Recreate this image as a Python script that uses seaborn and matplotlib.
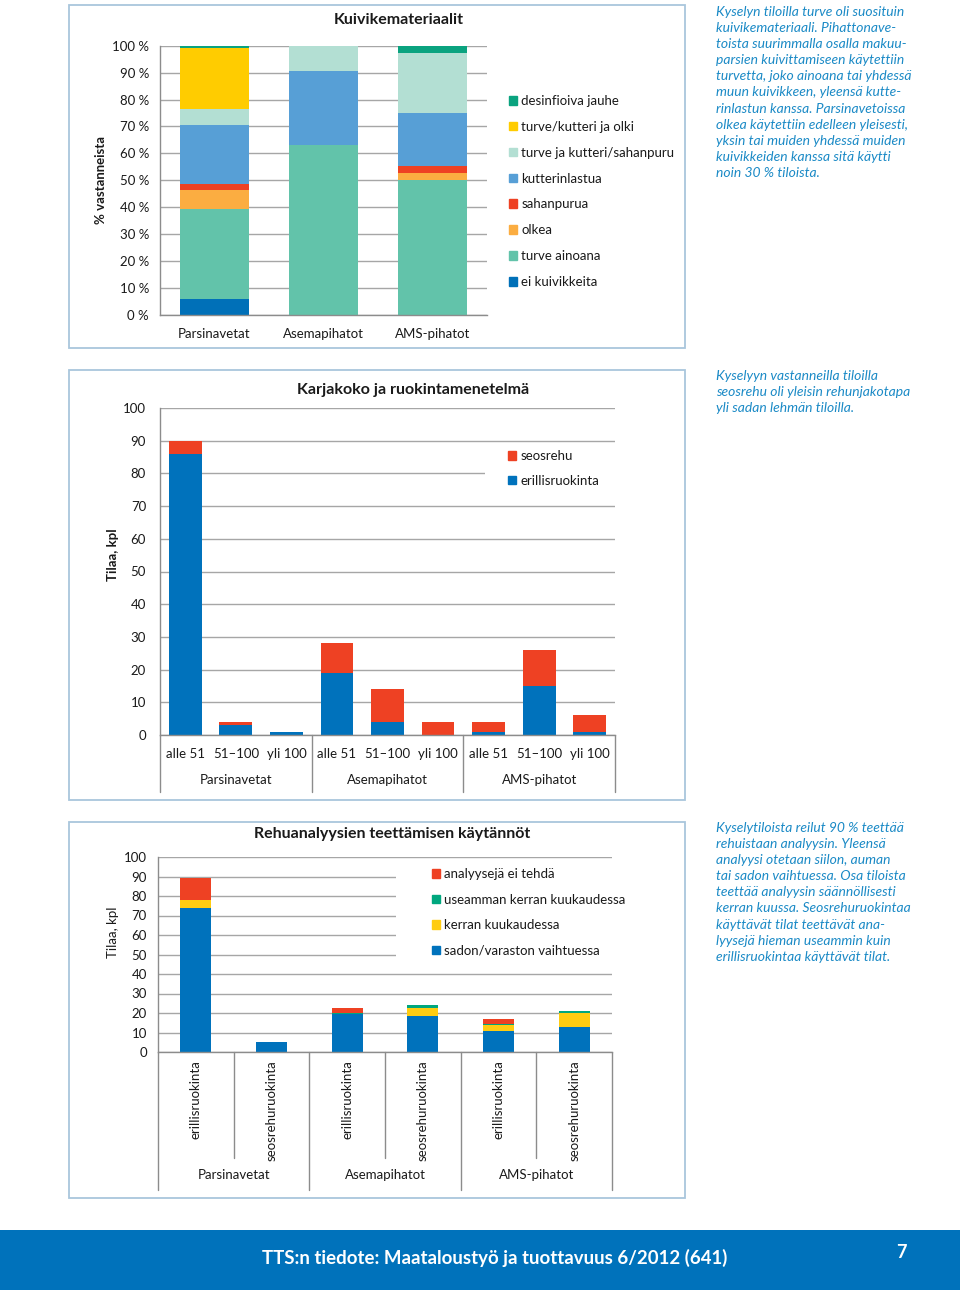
import matplotlib
matplotlib.use('Agg')
import matplotlib.pyplot as plt
from matplotlib.patches import Patch, Rectangle
from matplotlib.transforms import blended_transform_factory
import numpy as np
import pandas as pd
import seaborn as sns

# chart 1: Kuivikemateriaalit, % vastanneista
navetat = ['Parsinavetat', 'Asemapihatot', 'AMS-pihatot']
kuivike_lajit = ['ei kuivikkeita', 'turve ainoana', 'olkea', 'sahanpurua',
                 'kutterinlastua', 'turve ja kutteri/sahanpuru',
                 'turve/kutteri ja olki', 'desinfioiva jauhe']
ei_kuivikkeita = [6, 0, 0]
turve_ainoana = [33.5, 63, 50]
olkea = [7, 0, 2.7]
sahanpurua = [2, 0, 2.7]
kutterinlastua = [22, 27.6, 19.6]
turve_ja_kutteri = [6, 9.4, 22.2]
turve_kutteri_olki = [22.5, 0, 0]
desinfioiva = [1, 0, 2.8]

# chart 2: Karjakoko ja ruokintamenetelma, tilaa kpl
koot = ['alle 51', '51–100', 'yli 100']
erillisruokinta = [86, 3, 1, 19, 4, 0, 1, 15, 1]
seosrehu = [4, 1, 0, 9, 10, 4, 3, 11, 5]

# chart 3: Rehuanalyysien teettamisen kaytannot, tilaa kpl
ruokinta = ['erillisruokinta', 'seosrehuruokinta']
sadon_vaihtuessa = [74, 5, 19.5, 18.7, 10.7, 12.8]
kerran_kk = [4, 0, 0, 4, 3.3, 7]
useamman_kerran_kk = [0, 0, 0.5, 1.2, 0.5, 1]
ei_tehda = [11, 0, 2.8, 0, 2.5, 0]

W, H = 960, 1290
GRID = '#a6a6a6'
AXC = '#8c8c8c'
FONT = 'Lato'
TXT = '#1a1a1a'
BLUE_TXT = '#1b8ac6'

sns.set_theme(style='white')
plt.rcParams['font.family'] = [FONT, 'DejaVu Sans']
plt.rcParams['axes.edgecolor'] = AXC

fig = plt.figure(figsize=(W / 100, H / 100), dpi=100)


def add_ax(l, t, r, b):
    return fig.add_axes([l / W, 1 - b / H, (r - l) / W, (b - t) / H])


def fy(py):
    return 1 - py / H


def stacked(ax, keys, layers, colors, width):
    cum = np.cumsum(np.array(layers, dtype=float), axis=0)
    for i in range(len(layers) - 1, -1, -1):
        df = pd.DataFrame({'k': keys, 'v': cum[i]})
        sns.barplot(data=df, x='k', y='v', order=keys, color=colors[i],
                    width=width, saturation=1, linewidth=0, errorbar=None, ax=ax)
    ax.set_xlabel('')
    ax.set_ylabel('')


def style_axes(ax, ticks):
    ax.set_ylim(0, 100)
    ax.set_yticks(ticks)
    ax.yaxis.grid(True, color=GRID, lw=1)
    ax.set_axisbelow(True)
    for s in ['top', 'right']:
        ax.spines[s].set_visible(False)
    for s in ['left', 'bottom']:
        ax.spines[s].set_color(AXC)
        ax.spines[s].set_linewidth(1)


def frame(l, t, r, b):
    fig.add_artist(Rectangle((l / W, 1 - b / H), (r - l) / W, (b - t) / H,
                             fill=False, edgecolor='#a9c6dc', lw=1.3,
                             transform=fig.transFigure))


def legend(handles, x, y, spacing):
    fig.legend(handles=handles, loc='upper left', bbox_to_anchor=(x / W, fy(y)),
               frameon=False, handlelength=0.62, handleheight=0.62, handletextpad=0.3,
               labelspacing=spacing, fontsize=9.5, labelcolor=TXT,
               borderpad=0, borderaxespad=0)


# ---------- chart 1 ----------
frame(69, 5, 685, 348)
ax1 = add_ax(160, 45.7, 487, 315)
c1 = ['#0070b8', '#62c3aa', '#fbad41', '#ee4123', '#579fd6', '#b3dfd3', '#ffcc00', '#0aa37f']
stacked(ax1, navetat,
        [ei_kuivikkeita, turve_ainoana, olkea, sahanpurua, kutterinlastua,
         turve_ja_kutteri, turve_kutteri_olki, desinfioiva], c1, 0.64)
style_axes(ax1, range(0, 101, 10))
ax1.set_xlim(-0.5, len(navetat) - 0.5)
ax1.set_yticklabels([f'{v} %' for v in range(0, 101, 10)])
ax1.tick_params(axis='y', length=3, color=AXC, pad=5, labelsize=9.5, labelcolor=TXT)
ax1.tick_params(axis='x', length=0, pad=9, labelsize=9.5, labelcolor=TXT)
fig.text(399 / W, fy(20), 'Kuivikemateriaalit', ha='center', va='center',
         fontsize=11.5, fontweight='bold', color=TXT)
fig.text(101 / W, fy(180), '% vastanneista', rotation=90, ha='center', va='center',
         fontsize=9.5, fontweight='bold', color=TXT)
h1 = [Patch(color=c1[i], label=kuivike_lajit[i]) for i in range(len(c1) - 1, -1, -1)]
legend(h1, 509, 95, 1.05)

# ---------- chart 2 ----------
frame(69, 370, 685, 800)
ax2 = add_ax(160, 408, 615, 735)
keys2 = [f'{g}|{k}' for g in navetat for k in koot]
c2 = ['#0072bc', '#ee4123']
stacked(ax2, keys2, [erillisruokinta, seosrehu], c2, 0.65)
style_axes(ax2, range(0, 101, 10))
ax2.set_xticks(range(len(keys2)))
ax2.set_xticklabels([k for g in navetat for k in koot])
ax2.tick_params(axis='y', length=0, pad=10, labelsize=9.5, labelcolor=TXT)
ax2.tick_params(axis='x', length=0, pad=9, labelsize=9.5, labelcolor=TXT)
ax2.add_patch(Rectangle((5.93, 76), 2.57, 8, facecolor='white', edgecolor='none', zorder=0.8))
tr2 = blended_transform_factory(ax2.transData, ax2.transAxes)
for x in [-0.5, 2.5, 5.5, 8.5]:
    ax2.plot([x, x], [0, -57 / 327], transform=tr2, clip_on=False, color=AXC, lw=1)
for i, g in enumerate(navetat):
    ax2.text(3 * i + 1, -45 / 327, g, transform=tr2, ha='center', va='center',
             fontsize=9.5, color=TXT)
ax2.set_xlim(-0.5, len(keys2) - 0.5)
fig.text(413 / W, fy(390), 'Karjakoko ja ruokintamenetelmä', ha='center', va='center',
         fontsize=11.5, fontweight='bold', color=TXT)
fig.text(113 / W, fy(555), 'Tilaa, kpl', rotation=90, ha='center', va='center',
         fontsize=9.5, fontweight='bold', color=TXT)
h2 = [Patch(color=c2[1], label='seosrehu'), Patch(color=c2[0], label='erillisruokinta')]
legend(h2, 508, 450, 0.95)

# ---------- chart 3 ----------
frame(69, 822, 685, 1198)
ax3 = add_ax(158, 857, 612, 1052)
keys3 = [f'{g}|{r}' for g in navetat for r in ruokinta]
c3 = ['#0072bc', '#ffcc11', '#00a77e', '#ee4123']
stacked(ax3, keys3, [sadon_vaihtuessa, kerran_kk, useamman_kerran_kk, ei_tehda], c3, 0.41)
style_axes(ax3, range(0, 101, 10))
ax3.set_xticks(range(len(keys3)))
ax3.set_xticklabels([r for g in navetat for r in ruokinta], rotation=90, va='top', ha='center')
ax3.tick_params(axis='y', length=3, color=AXC, pad=5, labelsize=9.5, labelcolor=TXT)
ax3.tick_params(axis='x', length=0, pad=6, labelsize=9.5, labelcolor=TXT)
ax3.add_patch(Rectangle((2.65, 44), 2.85, 51, facecolor='white', edgecolor='none', zorder=0.8))
tr3 = blended_transform_factory(ax3.transData, ax3.transAxes)
for x in [-0.5, 1.5, 3.5, 5.5]:
    ax3.plot([x, x], [0, -138 / 195], transform=tr3, clip_on=False, color=AXC, lw=1)
for x in [0.5, 2.5, 4.5]:
    ax3.plot([x, x], [0, -106 / 195], transform=tr3, clip_on=False, color=AXC, lw=1)
for i, g in enumerate(navetat):
    ax3.text(2 * i + 0.5, -123 / 195, g, transform=tr3, ha='center', va='center',
             fontsize=9.5, color=TXT)
ax3.set_xlim(-0.5, len(keys3) - 0.5)
fig.text(392 / W, fy(834), 'Rehuanalyysien teettämisen käytännöt', ha='center', va='center',
         fontsize=11.5, fontweight='bold', color=TXT)
fig.text(113 / W, fy(932), 'Tilaa, kpl', rotation=90, ha='center', va='center',
         fontsize=9.5, color=TXT)
l3 = ['sadon/varaston vaihtuessa', 'kerran kuukaudessa',
      'useamman kerran kuukaudessa', 'analyysejä ei tehdä']
h3 = [Patch(color=c3[i], label=l3[i]) for i in range(3, -1, -1)]
legend(h3, 432, 868, 1.03)

# ---------- side texts ----------
side1 = ("Kyselyn tiloilla turve oli suosituin\nkuivikemateriaali. Pihattonave-\n"
         "toista suurimmalla osalla makuu-\nparsien kuivittamiseen käytettiin\n"
         "turvetta, joko ainoana tai yhdessä\nmuun kuivikkeen, yleensä kutte-\n"
         "rinlastun kanssa. Parsinavetoissa\nolkea käytettiin edelleen yleisesti,\n"
         "yksin tai muiden yhdessä muiden\nkuivikkeiden kanssa sitä käytti\n"
         "noin 30 % tiloista.")
side2 = ("Kyselyyn vastanneilla tiloilla\nseosrehu oli yleisin rehunjakotapa\n"
         "yli sadan lehmän tiloilla.")
side3 = ("Kyselytiloista reilut 90 % teettää\nrehuistaan analyysin. Yleensä\n"
         "analyysi otetaan siilon, auman\ntai sadon vaihtuessa. Osa tiloista\n"
         "teettää analyysin säännöllisesti\nkerran kuussa. Seosrehuruokintaa\n"
         "käyttävät tilat teettävät ana-\nlyysejä hieman useammin kuin\n"
         "erillisruokintaa käyttävät tilat.")
for txt, top in [(side1, 6), (side2, 370), (side3, 822)]:
    fig.text(716 / W, fy(top), txt, ha='left', va='top', fontsize=10,
             fontstyle='italic', color=BLUE_TXT, linespacing=1.41)

# ---------- footer ----------
fig.add_artist(Rectangle((0, 0), 1, 60 / H, facecolor='#0072bb', edgecolor='none',
                         transform=fig.transFigure))
fig.text(495 / W, fy(1258), 'TTS:n tiedote: Maataloustyö ja tuottavuus 6/2012 (641)',
         ha='center', va='center', fontsize=13.4, fontweight='bold', color='white')
fig.text(901 / W, fy(1253), '7', ha='center', va='center', fontsize=13,
         fontweight='bold', color='white')

fig.savefig('out.png', dpi=100, facecolor='white')
